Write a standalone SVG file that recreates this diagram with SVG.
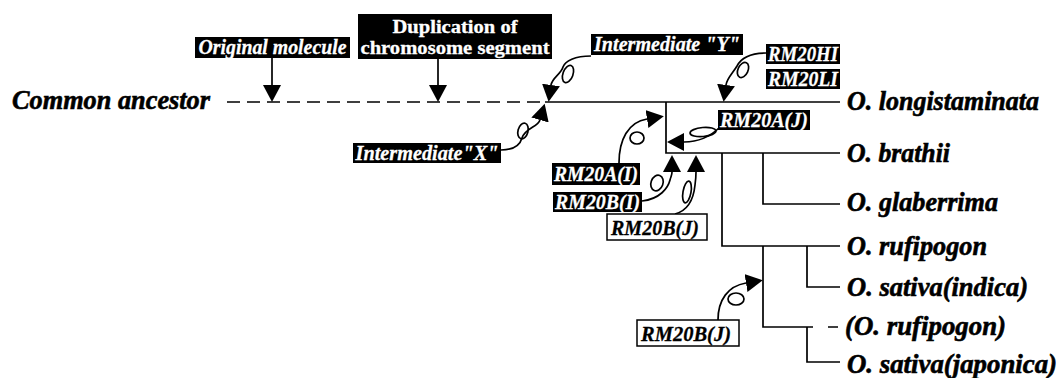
<svg xmlns="http://www.w3.org/2000/svg" width="1058" height="378" viewBox="0 0 1058 378">
  <style>
    .tree { fill: none; stroke: #000; stroke-width: 1.7; }
    .dash { fill: none; stroke: #000; stroke-width: 1.7; stroke-dasharray: 13 7; }
    .conn { fill: none; stroke: #000; stroke-width: 1.7; marker-end: url(#head); }
    .loop { fill: none; stroke: #000; stroke-width: 1.7; }
    .tag { fill: #000; }
    .tag-open { fill: #fff; stroke: #000; stroke-width: 1.5; }
    text { font-family: "Liberation Serif", serif; }
    .lbl { font-style: italic; font-weight: bold; font-size: 22px; fill: #fff; stroke: #fff; stroke-width: 0.3; text-anchor: middle; }
    .lbl-dark { fill: #000; stroke: #000; }
    .dup { font-weight: bold; font-size: 18.5px; fill: #fff; stroke: #fff; stroke-width: 0.3; text-anchor: middle; }
    .taxon { font-style: italic; font-weight: bold; font-size: 27px; fill: #000; stroke: #000; stroke-width: 0.6; }
  </style>
  <defs>
    <marker id="head" markerUnits="userSpaceOnUse" markerWidth="18" markerHeight="19" refX="0" refY="9" orient="auto">
      <path d="M0,0 L17,9 L0,18 Z" fill="#000"/>
    </marker>
  </defs>

  <rect width="1058" height="378" fill="#fff"/>

  <!-- tree -->
  <g id="tree">
    <text class="taxon" x="12" y="109" textLength="198" lengthAdjust="spacingAndGlyphs">Common ancestor</text>
    <path class="dash" d="M227,102 H545"/>
    <path class="tree" d="M545,102 H840"/>
    <path class="tree" d="M666,102 V153 H840"/>
    <path class="tree" d="M763,153 V204 H840"/>
    <path class="tree" d="M722,153 V246 H840"/>
    <path class="tree" d="M807,246 V287 H840"/>
    <path class="tree" d="M763,246 V327 H813 M828,327 H838"/>
    <path class="tree" d="M807,327 V362 H840"/>
  </g>

  <!-- taxa -->
  <g id="taxa">
    <text class="taxon" x="847" y="110" textLength="192" lengthAdjust="spacingAndGlyphs">O. longistaminata</text>
    <text class="taxon" x="847" y="162" textLength="103" lengthAdjust="spacingAndGlyphs">O. brathii</text>
    <text class="taxon" x="847" y="211" textLength="151" lengthAdjust="spacingAndGlyphs">O. glaberrima</text>
    <text class="taxon" x="847" y="255" textLength="140" lengthAdjust="spacingAndGlyphs">O. rufipogon</text>
    <text class="taxon" x="847" y="296" textLength="181" lengthAdjust="spacingAndGlyphs">O. sativa(indica)</text>
    <text class="taxon" x="845" y="335" textLength="161" lengthAdjust="spacingAndGlyphs">(O. rufipogon)</text>
    <text class="taxon" x="847" y="373" textLength="210" lengthAdjust="spacingAndGlyphs">O. sativa(japonica)</text>
  </g>

  <!-- connectors -->
  <g id="connectors">
    <path class="conn" d="M272,58 V85"/>
    <path class="conn" d="M438,59 V85"/>
    <!-- Intermediate "Y" -->
    <path class="conn" d="M591,56 C575,56 565,61 563,67 C561,74 552,78 551,85"/>
    <ellipse class="loop" cx="568" cy="74" rx="5" ry="9" transform="rotate(20 568 74)"/>
    <!-- Intermediate "X" -->
    <path class="conn" d="M501,150 C515,150 520,145 522,138 C525,128 538,127 540,120"/>
    <ellipse class="loop" cx="523" cy="131" rx="5" ry="8" transform="rotate(15 523 131)"/>
    <!-- RM20HI / RM20LI -->
    <path class="conn" d="M766,53 C748,53 740,60 737,66 C733,73 727,78 726,85"/>
    <ellipse class="loop" cx="743" cy="70" rx="5" ry="8" transform="rotate(25 743 70)"/>
    <!-- RM20A(J) -->
    <path class="conn" d="M720,127 C712,135 700,142 684,142"/>
    <ellipse class="loop" cx="703" cy="132" rx="13" ry="4.5" transform="rotate(-5 703 132)"/>
    <!-- RM20A(I) -->
    <path class="conn" d="M619,163 C619,140 628,122 647,119"/>
    <ellipse class="loop" cx="637" cy="138" rx="7" ry="6"/>
    <!-- RM20B(I) -->
    <path class="conn" d="M642,201 C660,199 668,188 670,180 C671,176 672,175 672,172"/>
    <ellipse class="loop" cx="657" cy="183" rx="6" ry="8" transform="rotate(20 657 183)"/>
    <!-- RM20B(J), upper -->
    <path class="conn" d="M675,214 C690,210 694,195 695,185 C696,178 696,175 696,172"/>
    <ellipse class="loop" cx="687" cy="192" rx="4" ry="11" transform="rotate(10 687 192)"/>
    <!-- RM20B(J), lower -->
    <path class="conn" d="M718,320 C718,300 728,286 746,283"/>
    <ellipse class="loop" cx="736" cy="299" rx="8" ry="6"/>
  </g>

  <!-- event labels -->
  <g id="original-molecule">
    <rect class="tag" x="195" y="37" width="155" height="21"/>
    <text class="lbl" x="272.5" y="54" textLength="148" lengthAdjust="spacingAndGlyphs">Original molecule</text>
  </g>
  <g id="duplication">
    <rect class="tag" x="358" y="14" width="194" height="45"/>
    <text class="dup" x="455" y="33" textLength="125" lengthAdjust="spacingAndGlyphs">Duplication of</text>
    <text class="dup" x="455" y="54" textLength="189" lengthAdjust="spacingAndGlyphs">chromosome segment</text>
  </g>
  <g id="intermediate-y">
    <rect class="tag" x="591" y="34" width="152" height="21"/>
    <text class="lbl" x="667" y="51" textLength="146" lengthAdjust="spacingAndGlyphs">Intermediate "Y"</text>
  </g>
  <g id="intermediate-x">
    <rect class="tag" x="353" y="143" width="148" height="20"/>
    <text class="lbl" x="427" y="160" textLength="143" lengthAdjust="spacingAndGlyphs">Intermediate"X"</text>
  </g>
  <g id="rm20hi">
    <rect class="tag" x="766" y="44" width="74" height="20"/>
    <text class="lbl" x="803" y="61" textLength="70" lengthAdjust="spacingAndGlyphs">RM20HI</text>
  </g>
  <g id="rm20li">
    <rect class="tag" x="766" y="69" width="74" height="20"/>
    <text class="lbl" x="803" y="86" textLength="70" lengthAdjust="spacingAndGlyphs">RM20LI</text>
  </g>
  <g id="rm20a-j">
    <rect class="tag" x="718" y="110" width="92" height="20"/>
    <text class="lbl" x="764" y="127" textLength="88" lengthAdjust="spacingAndGlyphs">RM20A(J)</text>
  </g>
  <g id="rm20a-i">
    <rect class="tag" x="552" y="163" width="88" height="22"/>
    <text class="lbl" x="596" y="181" textLength="84" lengthAdjust="spacingAndGlyphs">RM20A(I)</text>
  </g>
  <g id="rm20b-i">
    <rect class="tag" x="553" y="192" width="89" height="20"/>
    <text class="lbl" x="597.5" y="209" textLength="85" lengthAdjust="spacingAndGlyphs">RM20B(I)</text>
  </g>
  <g id="rm20b-j-upper">
    <rect class="tag-open" x="607" y="214" width="100" height="26"/>
    <text class="lbl lbl-dark" x="655" y="235" textLength="88" lengthAdjust="spacingAndGlyphs">RM20B(J)</text>
  </g>
  <g id="rm20b-j-lower">
    <rect class="tag-open" x="637" y="320" width="102" height="26"/>
    <text class="lbl lbl-dark" x="686" y="341" textLength="90" lengthAdjust="spacingAndGlyphs">RM20B(J)</text>
  </g>
</svg>
